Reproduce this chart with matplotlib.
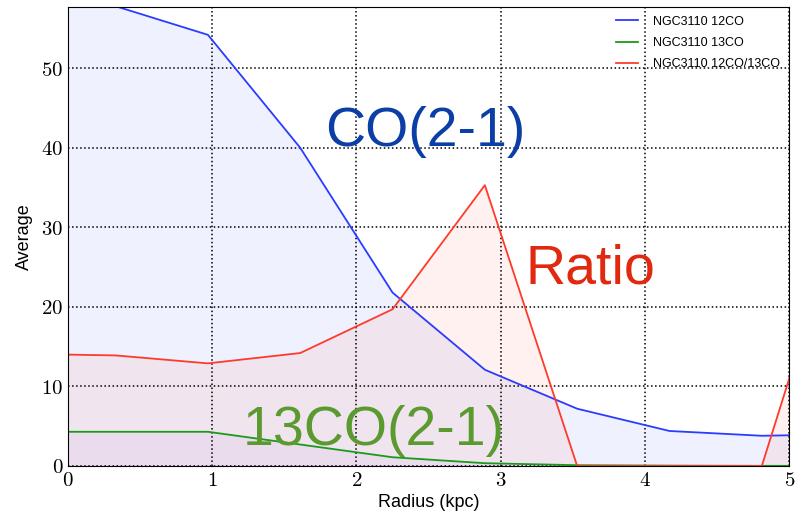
import numpy as np
import matplotlib.pyplot as plt
from matplotlib.ticker import FuncFormatter

radius = [0.0, 0.33, 0.97, 1.61, 2.25, 2.89, 3.53, 4.17, 4.81, 5.45]
co12 = [62.0, 57.8, 54.2, 40.0, 21.8, 12.1, 7.2, 4.4, 3.8, 4.0]
co13 = [4.3, 4.3, 4.3, 2.7, 1.1, 0.35, 0.1, 0.05, 0.02, 0.02]
ratio = [14.0, 13.9, 12.9, 14.2, 19.7, 35.3, 0.0, 0.0, 0.0, 37.0]

plt.rcParams['mathtext.fontset'] = 'cm'
plt.rcParams['font.family'] = ['Liberation Sans', 'DejaVu Sans']

fig = plt.figure(figsize=(7.98, 5.25), dpi=100)
ax = fig.add_axes([0.0852, 0.1124, 0.9038, 0.8743])

ax.plot(radius, co12, color='#2a3cff', lw=1.3, label='NGC3110 12CO')
ax.plot(radius, co13, color='#1a9a1a', lw=1.3, label='NGC3110 13CO')
ax.plot(radius, ratio, color='#ff3a2a', lw=1.3, label='NGC3110 12CO/13CO')
ax.fill_between(radius, co12, color='#2a3cff', alpha=0.07, lw=0)
ax.fill_between(radius, co13, color='#8a4ad0', alpha=0.05, lw=0)
ax.fill_between(radius, ratio, color='#ff3a2a', alpha=0.07, lw=0)

ax.set_xlim(0, 5)
ax.set_ylim(0, 57.7)
ax.set_xticks(range(6))
ax.set_yticks(range(0, 60, 10))
fmt = FuncFormatter(lambda v, p: r'$%d$' % v)
ax.xaxis.set_major_formatter(fmt)
ax.yaxis.set_major_formatter(fmt)
ax.tick_params(labelsize=15, direction='in', length=0)
ax.grid(True, color='black', linestyle=':', lw=1.1)

ax.set_xlabel('Radius (kpc)', fontsize=13, labelpad=3)
ax.set_ylabel('Average', fontsize=13, labelpad=6)

ax.text(2.48, 42.0, 'CO(2-1)', color='#0b3fa5', fontsize=40, ha='center', va='center')
ax.text(3.62, 24.7, 'Ratio', color='#e0290e', fontsize=40, ha='center', va='center')
ax.text(2.12, 4.4, '13CO(2-1)', color='#5b9a2e', fontsize=40, ha='center', va='center')

ax.legend(loc='upper right', fontsize=9, frameon=False, handlelength=1.8,
          handletextpad=1.2, labelspacing=0.75, borderaxespad=0.3)

fig.savefig('out.png', dpi=100)
